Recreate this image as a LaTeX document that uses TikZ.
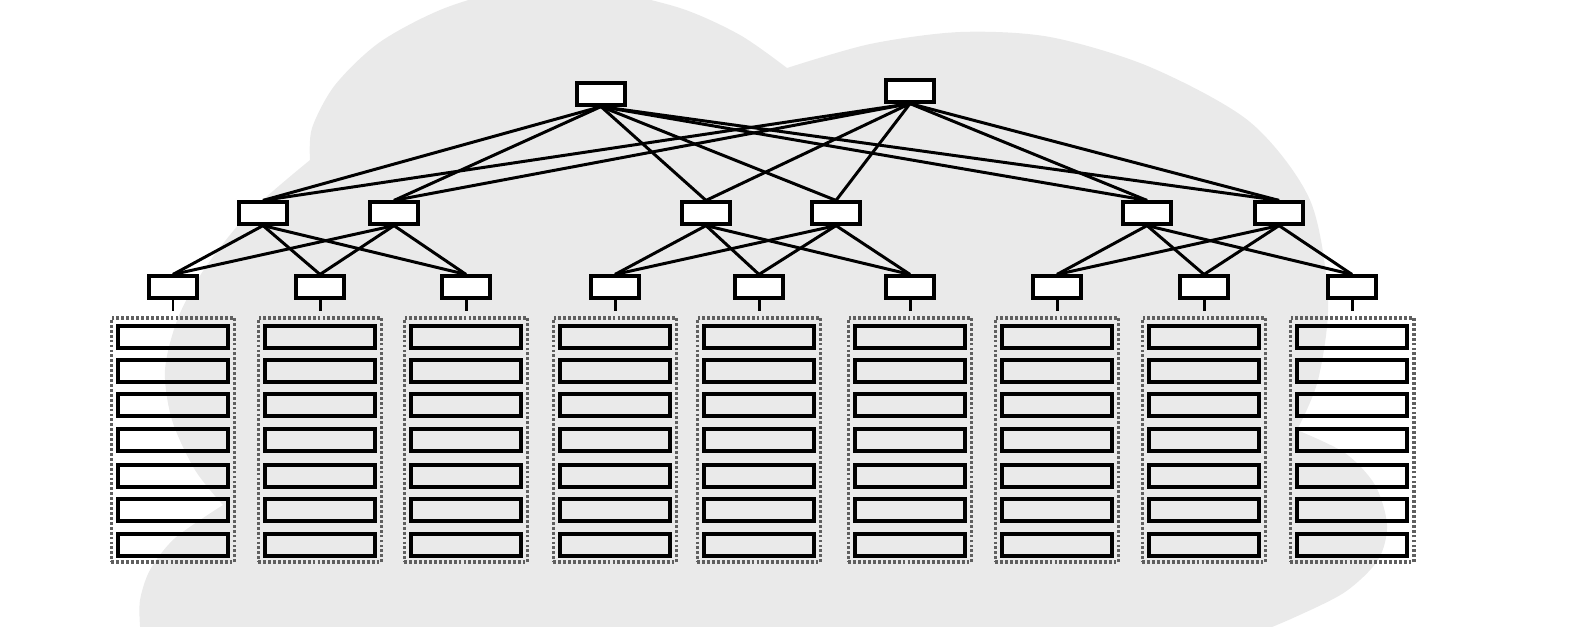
\documentclass[tikz,border=0pt]{standalone}
\definecolor{cloudgray}{RGB}{234,234,234}
\definecolor{rackgray}{RGB}{95,95,95}

\begin{document}
\begin{tikzpicture}[
    x=0.01cm, y=-0.01cm,
    switch/.style={rectangle, draw, fill=white, line width=0.9pt, minimum width=0.48cm, minimum height=0.22cm, inner sep=0pt},
    server/.style={rectangle, draw, line width=0.9pt, minimum width=1.10cm, minimum height=0.22cm, inner sep=0pt},
    rack/.style={rectangle, draw=rackgray, line width=1.1pt, dash pattern=on 0.8pt off 0.6pt, minimum width=1.23cm, minimum height=2.44cm, inner sep=0pt},
    link/.style={line width=0.85pt},
    stub/.style={line width=0.85pt, shorten >=0.05cm}
]
    \useasboundingbox (0,0) rectangle (1574,626);

    % Cloud in the background
    \fill[cloudgray]
        plot[smooth] coordinates {(310,160) (312,128) (335,85) (380,42) (445,8) (520,-12) (600,-10) (680,8) (740,35) (787,68)}
        -- plot[smooth] coordinates {(787,68) (870,44) (960,32) (1050,37) (1150,67) (1250,122) (1310,200) (1328,300) (1318,380) (1297,430)}
        -- plot[smooth] coordinates {(1297,430) (1345,453) (1375,485) (1387,525) (1378,560) (1345,592) (1293,618) (1240,640)}
        -- (140,640)
        -- plot[smooth] coordinates {(140,626) (140,600) (150,570) (175,538) (223,505)}
        -- plot[smooth] coordinates {(223,505) (195,470) (172,420) (165,370) (178,318) (205,268) (250,212) (310,160)}
        -- cycle;

    % Core switches
    \node[switch] (T1) at (601,94) {};
    \node[switch] (T2) at (910,91) {};

    % Aggregation switches
    \foreach \n/\x in {1/263,2/394,3/706,4/836,5/1147,6/1279}
        \node[switch] (A\n) at (\x,213) {};

    % Edge switches with their racks
    \foreach \n/\x in {1/173,2/320,3/466,4/615,5/759,6/910,7/1057,8/1204,9/1352} {
        \node[switch] (L\n) at (\x,287) {};
        \node[rack] (R\n) at (\x,440) {};
        \foreach \r/\y in {1/337,2/371,3/405,4/440,5/476,6/510,7/545}
            \node[server] (S\n-\r) at (\x,\y) {};
        \draw[stub] (L\n.south) -- (R\n.north);
    }

    % Core to aggregation
    \foreach \t in {T1,T2}
        \foreach \a in {1,...,6}
            \draw[link] (\t.south) -- (A\a.north);

    % Aggregation to edge, per pod
    \foreach \a/\ls in {1/{1,2,3},2/{1,2,3},3/{4,5,6},4/{4,5,6},5/{7,8,9},6/{7,8,9}}
        \foreach \l in \ls
            \draw[link] (A\a.south) -- (L\l.north);
\end{tikzpicture}
\end{document}
